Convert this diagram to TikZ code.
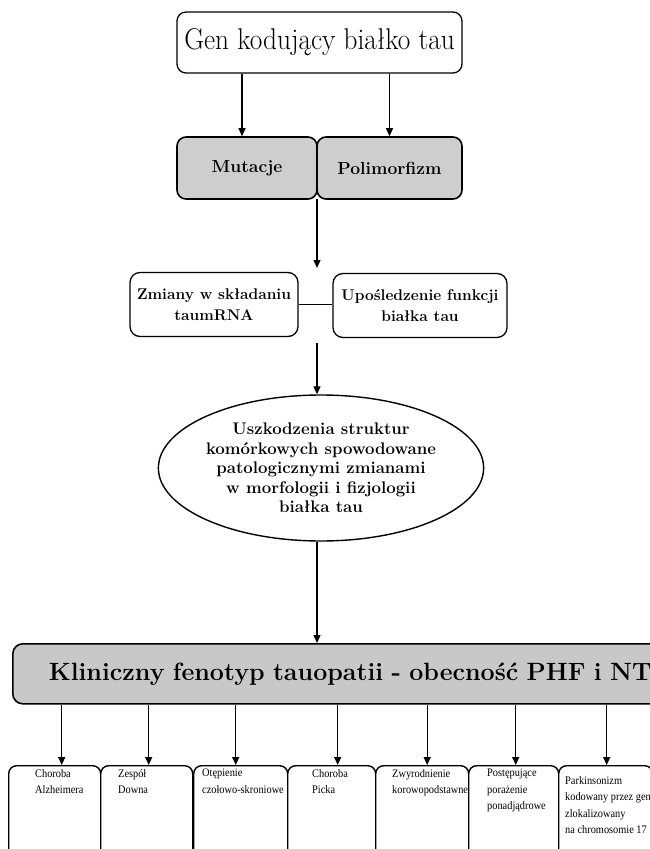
\documentclass[tikz,border=0pt]{standalone}
\usepackage{fontspec}
\newfontfamily\narrowserif[FakeStretch=0.9]{Liberation Serif}
\usetikzlibrary{shapes.geometric,arrows.meta}
\definecolor{boxgray}{RGB}{206,206,206}
\definecolor{bandgray}{RGB}{200,200,200}

\begin{document}
\begin{tikzpicture}[x=1pt,y=-1pt,
  arr/.style={-{Triangle[length=8pt,width=7pt]}, line width=1.3pt},
  link/.style={line width=1.3pt},
  topbox/.style={draw, line width=1.3pt, rounded corners=9pt, fill=white,
    minimum width=285pt, minimum height=61pt, inner sep=0pt,
    font=\fontsize{30}{34}\selectfont},
  graybox/.style={draw, line width=1.6pt, rounded corners=9pt, fill=boxgray,
    minimum height=62pt, inner sep=0pt, font=\bfseries\fontsize{17.5}{20}\selectfont},
  whitebox/.style={draw, line width=1.3pt, rounded corners=10pt, fill=white,
    minimum height=64pt, inner sep=0pt, align=center,
    font=\bfseries\fontsize{15.5}{21}\selectfont},
  oval/.style={draw, ellipse, line width=1.4pt, fill=white, inner sep=0pt,
    minimum width=278pt, minimum height=146pt, align=center,
    font=\bfseries\fontsize{16.8}{19.5}\selectfont},
  band/.style={draw, line width=1.6pt, rounded corners=10pt, fill=bandgray,
    anchor=north west, minimum height=60pt, inner xsep=36pt, inner ysep=0pt,
    text width=700pt, align=left, font=\bfseries\fontsize{25}{30}\selectfont},
  disease/.style={draw, line width=1.4pt, rounded corners=8pt, fill=white,
    anchor=north west, minimum height=110pt, inner sep=0pt},
  disname/.style={anchor=north west, inner sep=0pt, align=left,
    font=\narrowserif\fontsize{11.5}{16.5}\selectfont}
]
\useasboundingbox (0,0) rectangle (649,849);
\fill[white] (0,0) rectangle (649,849);

% gene and its two kinds of variation
\node[topbox] (gen) at (319.5,42.5) {\scalebox{0.91}[1]{Gen kodujący białko tau}};
\node[graybox, minimum width=140pt] (mut) at (247,168) {Mutacje};
\node[graybox, minimum width=145pt] (pol) at (389.5,168) {Polimorfizm};
\draw[arr] ([xshift=-5pt]gen.south -| mut.north) -- ([xshift=-5pt]mut.north);
\draw[arr] (gen.south -| pol.north) -- (pol.north);

% consequences at the RNA and protein level
\node[whitebox, minimum width=168pt] (zm) at (214,304.5) {Zmiany w składaniu\\taumRNA};
\node[whitebox, minimum width=174pt] (upo) at (420,305.5) {Upośledzenie funkcji\\białka tau};
\coordinate (split) at (317,199);
\coordinate (pairtop) at (317,268);
\coordinate (pairbot) at (317,343);
\draw[arr] (split) -- (pairtop);
\draw[link] (zm.east) -- (upo.west |- zm.east);

% cellular damage
\node[oval] (ell) at (321,468) {Uszkodzenia struktur\\komórkowych spowodowane\\patologicznymi zmianami\\w morfologii i fizjologii\\białka tau};
\draw[arr] (pairbot) -- (ell.north -| pairbot);

% clinical phenotype band
\node[band] (kl) at (12,643) {Kliniczny fenotyp tauopatii - obecność PHF i NT};
\draw[arr] ([xshift=-4pt]ell.south) -- ([xshift=-4pt]ell.south |- kl.north);

% individual tauopathies
\node[disease, minimum width=92pt] (b1) at (8,765) {};
\node[disease, minimum width=92pt] (b2) at (100,765) {};
\node[disease, minimum width=94pt] (b3) at (193,765) {};
\node[disease, minimum width=88pt] (b4) at (287,765) {};
\node[disease, minimum width=93pt] (b5) at (375,765) {};
\node[disease, minimum width=90pt] (b6) at (468,765) {};
\node[disease, minimum width=94pt] (b7) at (558,765) {};

\draw[arr] ([xshift=7pt]b1.north |- kl.south) -- ([xshift=7pt]b1.north);
\draw[arr] ([xshift=2pt]b2.north |- kl.south) -- ([xshift=2pt]b2.north);
\draw[arr] ([xshift=-5pt]b3.north |- kl.south) -- ([xshift=-5pt]b3.north);
\draw[arr] ([xshift=6pt]b4.north |- kl.south) -- ([xshift=6pt]b4.north);
\draw[arr] ([xshift=5pt]b5.north |- kl.south) -- ([xshift=5pt]b5.north);
\draw[arr] ([xshift=2pt]b6.north |- kl.south) -- ([xshift=2pt]b6.north);
\draw[arr] ([xshift=1pt]b7.north |- kl.south) -- ([xshift=1pt]b7.north);

\node[disname] (t1) at ([xshift=27pt,yshift=-4pt]b1.north west) {Choroba\\Alzheimera};
\node[disname] (t2) at ([xshift=18pt,yshift=-4pt]b2.north west) {Zespół\\Downa};
\node[disname] (t3) at ([xshift=9pt,yshift=-4pt]b3.north west) {Otępienie\\czołowo-skroniowe};
\node[disname] (t4) at ([xshift=25pt,yshift=-4pt]b4.north west) {Choroba\\Picka};
\node[disname] (t5) at ([xshift=17pt,yshift=-4pt]b5.north west) {Zwyrodnienie\\korowopodstawne};
\node[disname] (t6) at ([xshift=19pt,yshift=-4pt]b6.north west) {Postępujące\\porażenie\\ponadjądrowe};
\node[disname] (t7) at ([xshift=7pt,yshift=-11pt]b7.north west) {Parkinsonizm\\kodowany przez gen\\zlokalizowany\\na chromosomie 17};
\end{tikzpicture}
\end{document}
